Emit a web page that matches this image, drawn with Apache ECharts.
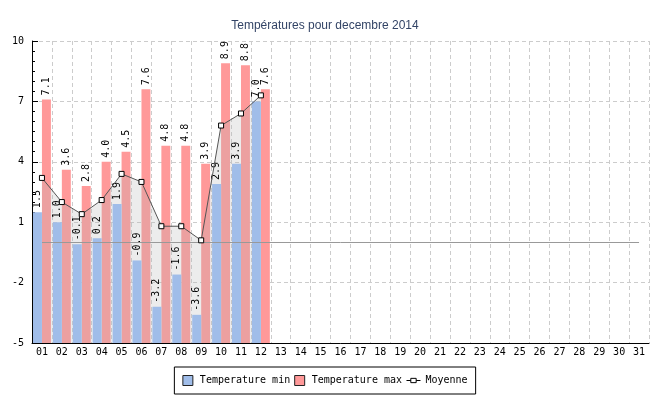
<!DOCTYPE html>
<html><head><meta charset="utf-8">
<script src="https://cdn.jsdelivr.net/npm/echarts@6/dist/echarts.min.js"></script>
<style>html,body{margin:0;padding:0;background:#fff}#c{width:650px;height:400px}</style>
</head><body><div id="c"></div>
<script>
const days = ['01','02','03','04','05','06','07','08','09','10','11','12','13','14','15','16','17','18','19','20','21','22','23','24','25','26','27','28','29','30','31'];
const tempMin = [1.5, 1.0, -0.1, 0.2, 1.9, -0.9, -3.2, -1.6, -3.6, 2.9, 3.9, 7.0];
const tempMax = [7.1, 3.6, 2.8, 4.0, 4.5, 7.6, 4.8, 4.8, 3.9, 8.9, 8.8, 7.6];
const moyenne = [3.2, 2.0, 1.4, 2.1, 3.4, 3.0, 0.8, 0.8, 0.1, 5.8, 6.4, 7.3];

const mono = 'DejaVu Sans Mono';
const barLabel = {
  show: true, position: 'top', rotate: 90, align: 'left', verticalAlign: 'middle',
  distance: 4, fontFamily: mono, fontSize: 10, color: '#000',
  formatter: p => Number(p.value).toFixed(1)
};
const chart = echarts.init(document.getElementById('c'));
chart.setOption({
  animation: false,
  title: {
    text: 'Températures pour decembre 2014', left: 'center', top: 15,
    textStyle: { fontFamily: 'Liberation Sans', fontSize: 12, fontWeight: 'normal', color: '#334466' }
  },
  grid: { left: 32, right: 1, top: 41, bottom: 57 },
  legend: {
    top: 367, left: 'center', orient: 'horizontal',
    borderColor: '#000', borderWidth: 1, borderRadius: 0, padding: [8, 8],
    itemGap: 4, itemWidth: 14, itemHeight: 10,
    textStyle: { fontFamily: mono, fontSize: 10, color: '#000' },
    data: [
      { name: 'Temperature min', icon: 'path://M0,0H10V10H0Z', itemStyle: { borderColor: '#222', borderWidth: 1 } },
      { name: 'Temperature max', icon: 'path://M0,0H10V10H0Z', itemStyle: { borderColor: '#222', borderWidth: 1 } },
      { name: 'Moyenne', icon: 'path://M0,5H4M9,5H13M4,3H9V7H4Z', itemStyle: { color: '#fff', borderColor: '#000', borderWidth: 1 } }
    ]
  },
  xAxis: {
    type: 'category', data: days, boundaryGap: true,
    axisLine: { onZero: false, lineStyle: { color: '#000', width: 1 } },
    axisTick: { inside: true, length: 5, interval: 0, lineStyle: { color: '#000' } },
    axisLabel: { interval: 0, margin: 4, fontFamily: mono, fontSize: 10, color: '#000' },
    splitLine: { show: true, interval: 0, lineStyle: { color: '#ccc', type: [4, 3] } }
  },
  yAxis: {
    type: 'value', min: -5, max: 10, interval: 3, startValue: -5,
    axisLine: { show: true, onZero: false, lineStyle: { color: '#000', width: 1 } },
    axisTick: { show: true, inside: true, length: 6, lineStyle: { color: '#000' } },
    minorTick: { show: true, splitNumber: 6, length: 3, lineStyle: { color: '#000' } },
    axisLabel: { margin: 8, fontFamily: mono, fontSize: 10, color: '#000' },
    splitLine: { show: true, lineStyle: { color: '#ccc', type: [4, 3] } }
  },
  series: [
    {
      name: 'Temperature min', type: 'bar', data: tempMin, z: 4,
      barGap: '0%', barCategoryGap: '10%',
      itemStyle: { color: '#a0bde9' }, label: barLabel
    },
    {
      name: 'Temperature max', type: 'bar', data: tempMax, z: 2,
      barGap: '0%', barCategoryGap: '10%',
      itemStyle: { color: '#ff9999' }, label: barLabel
    },
    {
      type: 'line', data: moyenne, z: 3, silent: true, symbol: 'none',
      lineStyle: { width: 0 },
      areaStyle: { color: 'rgba(182,182,182,0.37)', origin: 'start' }
    },
    {
      name: 'Moyenne', type: 'line', data: moyenne, z: 5,
      symbol: 'rect', symbolSize: 5,
      lineStyle: { color: '#555', width: 1 },
      itemStyle: { color: '#fff', borderColor: '#000', borderWidth: 1 },
      markLine: {
        silent: true, symbol: 'none',
        label: { show: false },
        lineStyle: { color: '#999', type: 'solid', width: 1 },
        data: [[{ xAxis: days[0], yAxis: 0 }, { xAxis: days[days.length - 1], yAxis: 0 }]]
      }
    }
  ]
});
</script></body></html>
